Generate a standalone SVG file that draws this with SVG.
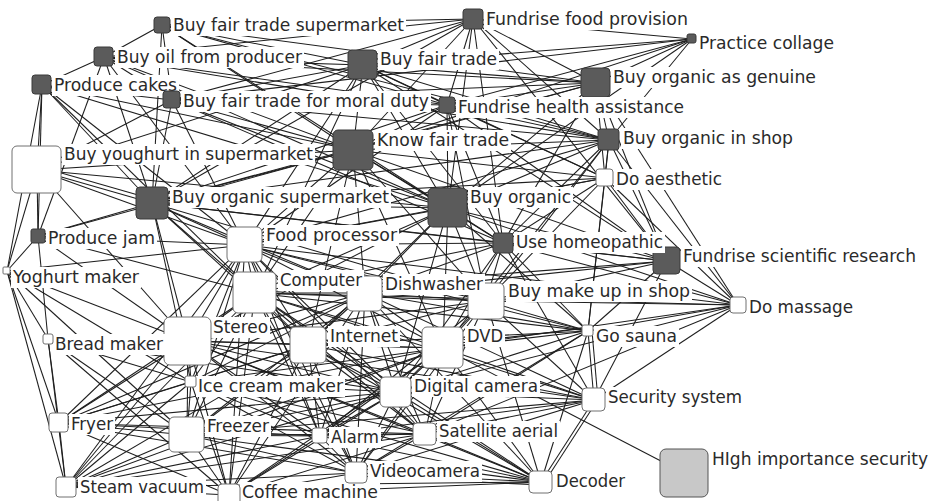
<svg xmlns="http://www.w3.org/2000/svg" width="938" height="501" viewBox="0 0 938 501">
<style>
  .edges line{stroke:#1e1e1e;stroke-width:1.05;fill:none}
  .dk{fill:#5b5b5b;stroke:#3a3a3a;stroke-width:1}
  .wt{fill:#fff;stroke:#707070;stroke-width:1}
  .gy{fill:#c8c8c8;stroke:#555;stroke-width:1}
  .bg{fill:#fff;stroke:none}
  text{font-family:"DejaVu Sans Condensed","DejaVu Sans","Liberation Sans",sans-serif;font-size:18px;fill:#2a2a2a}
</style>
<rect width="938" height="501" fill="#fff"/>
<g id="connectors" class="edges">
<line x1="162" y1="25" x2="104" y2="57"/><line x1="162" y1="25" x2="172" y2="100"/><line x1="162" y1="25" x2="473" y2="19"/><line x1="162" y1="25" x2="363" y2="65"/><line x1="162" y1="25" x2="353" y2="150"/><line x1="162" y1="25" x2="152" y2="203"/><line x1="162" y1="25" x2="448" y2="208"/><line x1="162" y1="25" x2="447" y2="105"/><line x1="162" y1="25" x2="596" y2="83"/><line x1="162" y1="25" x2="609" y2="140"/>
<line x1="104" y1="57" x2="42" y2="85"/><line x1="104" y1="57" x2="172" y2="100"/><line x1="104" y1="57" x2="363" y2="65"/><line x1="104" y1="57" x2="353" y2="150"/><line x1="104" y1="57" x2="152" y2="203"/><line x1="104" y1="57" x2="448" y2="208"/><line x1="104" y1="57" x2="447" y2="105"/><line x1="104" y1="57" x2="596" y2="83"/><line x1="104" y1="57" x2="609" y2="140"/><line x1="104" y1="57" x2="245" y2="245"/><line x1="104" y1="57" x2="38" y2="236"/><line x1="104" y1="57" x2="473" y2="19"/>
<line x1="42" y1="85" x2="37" y2="170"/><line x1="42" y1="85" x2="38" y2="236"/><line x1="42" y1="85" x2="7" y2="271"/><line x1="42" y1="85" x2="172" y2="100"/><line x1="42" y1="85" x2="353" y2="150"/><line x1="42" y1="85" x2="152" y2="203"/><line x1="42" y1="85" x2="448" y2="208"/><line x1="42" y1="85" x2="245" y2="245"/><line x1="42" y1="85" x2="255" y2="293"/>
<line x1="172" y1="100" x2="363" y2="65"/><line x1="172" y1="100" x2="353" y2="150"/><line x1="172" y1="100" x2="152" y2="203"/><line x1="172" y1="100" x2="448" y2="208"/><line x1="172" y1="100" x2="447" y2="105"/><line x1="172" y1="100" x2="596" y2="83"/><line x1="172" y1="100" x2="609" y2="140"/><line x1="172" y1="100" x2="503" y2="243"/><line x1="172" y1="100" x2="473" y2="19"/><line x1="172" y1="100" x2="245" y2="245"/><line x1="172" y1="100" x2="37" y2="170"/>
<line x1="37" y1="170" x2="152" y2="203"/><line x1="37" y1="166" x2="152" y2="199"/><line x1="37" y1="170" x2="38" y2="236"/><line x1="37" y1="170" x2="7" y2="271"/><line x1="37" y1="170" x2="188" y2="341"/><line x1="37" y1="170" x2="245" y2="245"/><line x1="37" y1="170" x2="353" y2="150"/><line x1="37" y1="170" x2="363" y2="65"/><line x1="37" y1="170" x2="448" y2="208"/>
<line x1="473" y1="19" x2="363" y2="65"/><line x1="473" y1="19" x2="353" y2="150"/><line x1="473" y1="19" x2="447" y2="105"/><line x1="473" y1="19" x2="448" y2="208"/><line x1="473" y1="19" x2="609" y2="140"/><line x1="473" y1="19" x2="596" y2="83"/><line x1="473" y1="19" x2="692" y2="39"/><line x1="473" y1="19" x2="152" y2="203"/><line x1="473" y1="19" x2="503" y2="243"/><line x1="473" y1="19" x2="667" y2="261"/>
<line x1="363" y1="65" x2="353" y2="150"/><line x1="363" y1="65" x2="447" y2="105"/><line x1="363" y1="65" x2="596" y2="83"/><line x1="363" y1="65" x2="609" y2="140"/><line x1="363" y1="65" x2="448" y2="208"/><line x1="363" y1="65" x2="152" y2="203"/><line x1="363" y1="65" x2="692" y2="39"/><line x1="363" y1="65" x2="503" y2="243"/><line x1="363" y1="65" x2="667" y2="261"/><line x1="363" y1="65" x2="605" y2="178"/><line x1="363" y1="65" x2="245" y2="245"/><line x1="363" y1="65" x2="255" y2="293"/>
<line x1="692" y1="39" x2="596" y2="83"/><line x1="692" y1="39" x2="447" y2="105"/><line x1="692" y1="39" x2="353" y2="150"/><line x1="692" y1="39" x2="609" y2="140"/><line x1="692" y1="39" x2="448" y2="208"/><line x1="692" y1="39" x2="172" y2="100"/>
<line x1="596" y1="83" x2="609" y2="140"/><line x1="596" y1="83" x2="448" y2="208"/><line x1="596" y1="83" x2="353" y2="150"/><line x1="596" y1="83" x2="447" y2="105"/><line x1="596" y1="83" x2="503" y2="243"/><line x1="596" y1="83" x2="667" y2="261"/><line x1="596" y1="83" x2="605" y2="178"/><line x1="596" y1="83" x2="152" y2="203"/><line x1="596" y1="83" x2="738" y2="305"/>
<line x1="447" y1="105" x2="353" y2="150"/><line x1="447" y1="105" x2="448" y2="208"/><line x1="447" y1="105" x2="609" y2="140"/><line x1="447" y1="105" x2="152" y2="203"/><line x1="447" y1="105" x2="503" y2="243"/><line x1="447" y1="105" x2="667" y2="261"/><line x1="447" y1="105" x2="605" y2="178"/><line x1="447" y1="105" x2="245" y2="245"/><line x1="447" y1="105" x2="486" y2="301"/>
<line x1="353" y1="150" x2="152" y2="203"/><line x1="353" y1="150" x2="448" y2="208"/><line x1="353" y1="150" x2="609" y2="140"/><line x1="353" y1="150" x2="503" y2="243"/><line x1="353" y1="150" x2="667" y2="261"/><line x1="353" y1="150" x2="245" y2="245"/><line x1="353" y1="150" x2="255" y2="293"/><line x1="353" y1="150" x2="365" y2="293"/><line x1="353" y1="150" x2="486" y2="301"/><line x1="353" y1="150" x2="605" y2="178"/><line x1="353" y1="150" x2="38" y2="236"/><line x1="353" y1="150" x2="308" y2="345"/><line x1="353" y1="150" x2="443" y2="348"/>
<line x1="609" y1="140" x2="448" y2="208"/><line x1="609" y1="140" x2="503" y2="243"/><line x1="609" y1="140" x2="667" y2="261"/><line x1="609" y1="140" x2="605" y2="178"/><line x1="609" y1="140" x2="738" y2="305"/><line x1="609" y1="140" x2="152" y2="203"/><line x1="609" y1="140" x2="486" y2="301"/><line x1="609" y1="140" x2="588" y2="331"/><line x1="609" y1="140" x2="245" y2="245"/><line x1="609" y1="140" x2="443" y2="348"/>
<line x1="605" y1="178" x2="448" y2="208"/><line x1="605" y1="178" x2="503" y2="243"/><line x1="605" y1="178" x2="667" y2="261"/><line x1="605" y1="178" x2="738" y2="305"/><line x1="605" y1="178" x2="486" y2="301"/><line x1="605" y1="178" x2="588" y2="331"/><line x1="605" y1="178" x2="152" y2="203"/><line x1="605" y1="178" x2="245" y2="245"/>
<line x1="152" y1="203" x2="448" y2="208"/><line x1="152" y1="203" x2="245" y2="245"/><line x1="152" y1="203" x2="503" y2="243"/><line x1="152" y1="203" x2="255" y2="293"/><line x1="152" y1="203" x2="188" y2="341"/><line x1="152" y1="203" x2="38" y2="236"/><line x1="152" y1="203" x2="365" y2="293"/><line x1="152" y1="203" x2="308" y2="345"/><line x1="152" y1="203" x2="191" y2="382"/><line x1="152" y1="203" x2="486" y2="301"/><line x1="152" y1="203" x2="667" y2="261"/>
<line x1="448" y1="208" x2="503" y2="243"/><line x1="448" y1="208" x2="667" y2="261"/><line x1="448" y1="208" x2="486" y2="301"/><line x1="448" y1="208" x2="738" y2="305"/><line x1="448" y1="208" x2="245" y2="245"/><line x1="448" y1="208" x2="255" y2="293"/><line x1="448" y1="208" x2="365" y2="293"/><line x1="448" y1="208" x2="308" y2="345"/><line x1="448" y1="208" x2="443" y2="348"/><line x1="448" y1="208" x2="588" y2="331"/><line x1="448" y1="208" x2="396" y2="392"/><line x1="448" y1="208" x2="188" y2="341"/>
<line x1="38" y1="236" x2="245" y2="245"/><line x1="38" y1="236" x2="7" y2="271"/><line x1="38" y1="236" x2="255" y2="293"/><line x1="38" y1="236" x2="188" y2="341"/><line x1="38" y1="236" x2="48" y2="339"/>
<line x1="245" y1="245" x2="255" y2="293"/><line x1="245" y1="245" x2="365" y2="293"/><line x1="245" y1="245" x2="486" y2="301"/><line x1="245" y1="245" x2="188" y2="341"/><line x1="245" y1="245" x2="308" y2="345"/><line x1="245" y1="245" x2="443" y2="348"/><line x1="245" y1="245" x2="191" y2="382"/><line x1="245" y1="245" x2="396" y2="392"/><line x1="245" y1="245" x2="187" y2="435"/><line x1="245" y1="245" x2="320" y2="436"/><line x1="245" y1="245" x2="425" y2="434"/><line x1="245" y1="245" x2="356" y2="473"/><line x1="245" y1="245" x2="7" y2="271"/><line x1="245" y1="245" x2="59" y2="423"/><line x1="245" y1="245" x2="66" y2="487"/><line x1="245" y1="245" x2="229" y2="495"/><line x1="245" y1="245" x2="503" y2="243"/><line x1="245" y1="245" x2="588" y2="331"/><line x1="245" y1="245" x2="738" y2="305"/>
<line x1="503" y1="243" x2="667" y2="261"/><line x1="503" y1="243" x2="486" y2="301"/><line x1="503" y1="243" x2="738" y2="305"/><line x1="503" y1="243" x2="588" y2="331"/><line x1="503" y1="243" x2="365" y2="293"/><line x1="503" y1="243" x2="255" y2="293"/><line x1="503" y1="243" x2="443" y2="348"/><line x1="503" y1="243" x2="594" y2="400"/><line x1="503" y1="243" x2="396" y2="392"/>
<line x1="667" y1="261" x2="738" y2="305"/><line x1="667" y1="261" x2="486" y2="301"/><line x1="667" y1="261" x2="588" y2="331"/><line x1="667" y1="261" x2="594" y2="400"/><line x1="667" y1="261" x2="255" y2="293"/><line x1="667" y1="261" x2="365" y2="293"/>
<line x1="7" y1="271" x2="48" y2="339"/><line x1="7" y1="271" x2="59" y2="423"/><line x1="7" y1="271" x2="66" y2="487"/><line x1="7" y1="271" x2="188" y2="341"/><line x1="7" y1="271" x2="187" y2="435"/><line x1="7" y1="271" x2="191" y2="382"/>
<line x1="255" y1="293" x2="365" y2="293"/><line x1="255" y1="293" x2="486" y2="301"/><line x1="255" y1="293" x2="188" y2="341"/><line x1="255" y1="293" x2="308" y2="345"/><line x1="255" y1="293" x2="443" y2="348"/><line x1="255" y1="293" x2="191" y2="382"/><line x1="255" y1="293" x2="396" y2="392"/><line x1="255" y1="293" x2="187" y2="435"/><line x1="255" y1="293" x2="320" y2="436"/><line x1="255" y1="293" x2="425" y2="434"/><line x1="255" y1="293" x2="356" y2="473"/><line x1="255" y1="293" x2="229" y2="495"/><line x1="255" y1="293" x2="59" y2="423"/><line x1="255" y1="293" x2="66" y2="487"/><line x1="255" y1="293" x2="588" y2="331"/><line x1="255" y1="293" x2="594" y2="400"/><line x1="255" y1="293" x2="541" y2="482"/><line x1="255" y1="293" x2="738" y2="305"/>
<line x1="365" y1="293" x2="486" y2="301"/><line x1="365" y1="293" x2="188" y2="341"/><line x1="365" y1="293" x2="308" y2="345"/><line x1="365" y1="293" x2="443" y2="348"/><line x1="365" y1="293" x2="191" y2="382"/><line x1="365" y1="293" x2="396" y2="392"/><line x1="365" y1="293" x2="187" y2="435"/><line x1="365" y1="293" x2="320" y2="436"/><line x1="365" y1="293" x2="425" y2="434"/><line x1="365" y1="293" x2="356" y2="473"/><line x1="365" y1="293" x2="229" y2="495"/><line x1="365" y1="293" x2="588" y2="331"/><line x1="365" y1="293" x2="594" y2="400"/><line x1="365" y1="293" x2="541" y2="482"/><line x1="365" y1="293" x2="59" y2="423"/>
<line x1="486" y1="301" x2="738" y2="305"/><line x1="486" y1="301" x2="588" y2="331"/><line x1="486" y1="301" x2="443" y2="348"/><line x1="486" y1="301" x2="308" y2="345"/><line x1="486" y1="301" x2="396" y2="392"/><line x1="486" y1="301" x2="425" y2="434"/><line x1="486" y1="301" x2="594" y2="400"/><line x1="486" y1="301" x2="541" y2="482"/><line x1="486" y1="301" x2="188" y2="341"/><line x1="486" y1="301" x2="320" y2="436"/><line x1="486" y1="301" x2="356" y2="473"/>
<line x1="738" y1="305" x2="588" y2="331"/><line x1="738" y1="305" x2="443" y2="348"/><line x1="738" y1="305" x2="396" y2="392"/><line x1="738" y1="305" x2="594" y2="400"/><line x1="738" y1="305" x2="425" y2="434"/>
<line x1="188" y1="341" x2="308" y2="345"/><line x1="188" y1="341" x2="443" y2="348"/><line x1="188" y1="341" x2="191" y2="382"/><line x1="188" y1="341" x2="396" y2="392"/><line x1="188" y1="341" x2="187" y2="435"/><line x1="188" y1="341" x2="320" y2="436"/><line x1="188" y1="341" x2="425" y2="434"/><line x1="188" y1="341" x2="356" y2="473"/><line x1="188" y1="341" x2="229" y2="495"/><line x1="188" y1="341" x2="59" y2="423"/><line x1="188" y1="341" x2="66" y2="487"/><line x1="188" y1="341" x2="48" y2="339"/><line x1="188" y1="341" x2="541" y2="482"/><line x1="188" y1="341" x2="594" y2="400"/>
<line x1="48" y1="339" x2="59" y2="423"/><line x1="48" y1="339" x2="66" y2="487"/><line x1="48" y1="339" x2="191" y2="382"/><line x1="48" y1="339" x2="187" y2="435"/><line x1="48" y1="339" x2="229" y2="495"/><line x1="48" y1="339" x2="396" y2="392"/>
<line x1="308" y1="345" x2="443" y2="348"/><line x1="308" y1="345" x2="191" y2="382"/><line x1="308" y1="345" x2="396" y2="392"/><line x1="308" y1="345" x2="187" y2="435"/><line x1="308" y1="345" x2="320" y2="436"/><line x1="308" y1="345" x2="425" y2="434"/><line x1="308" y1="345" x2="356" y2="473"/><line x1="308" y1="345" x2="229" y2="495"/><line x1="308" y1="345" x2="59" y2="423"/><line x1="308" y1="345" x2="66" y2="487"/><line x1="308" y1="345" x2="541" y2="482"/><line x1="308" y1="345" x2="594" y2="400"/><line x1="308" y1="345" x2="588" y2="331"/>
<line x1="443" y1="348" x2="191" y2="382"/><line x1="443" y1="348" x2="396" y2="392"/><line x1="443" y1="348" x2="187" y2="435"/><line x1="443" y1="348" x2="320" y2="436"/><line x1="443" y1="348" x2="425" y2="434"/><line x1="443" y1="348" x2="356" y2="473"/><line x1="443" y1="348" x2="229" y2="495"/><line x1="443" y1="348" x2="588" y2="331"/><line x1="443" y1="345" x2="588" y2="328"/><line x1="443" y1="348" x2="594" y2="400"/><line x1="443" y1="348" x2="541" y2="482"/><line x1="443" y1="348" x2="684" y2="473"/><line x1="443" y1="348" x2="59" y2="423"/><line x1="443" y1="348" x2="66" y2="487"/>
<line x1="588" y1="331" x2="594" y2="400"/><line x1="592" y1="331" x2="598" y2="400"/><line x1="588" y1="331" x2="396" y2="392"/><line x1="588" y1="331" x2="425" y2="434"/><line x1="588" y1="331" x2="541" y2="482"/><line x1="588" y1="331" x2="356" y2="473"/>
<line x1="191" y1="382" x2="396" y2="392"/><line x1="191" y1="382" x2="187" y2="435"/><line x1="191" y1="382" x2="320" y2="436"/><line x1="191" y1="382" x2="425" y2="434"/><line x1="191" y1="382" x2="356" y2="473"/><line x1="191" y1="382" x2="229" y2="495"/><line x1="191" y1="382" x2="59" y2="423"/><line x1="191" y1="382" x2="66" y2="487"/><line x1="191" y1="382" x2="541" y2="482"/>
<line x1="396" y1="392" x2="187" y2="435"/><line x1="396" y1="392" x2="320" y2="436"/><line x1="396" y1="392" x2="425" y2="434"/><line x1="396" y1="392" x2="356" y2="473"/><line x1="396" y1="392" x2="229" y2="495"/><line x1="396" y1="392" x2="594" y2="400"/><line x1="396" y1="392" x2="541" y2="482"/><line x1="396" y1="392" x2="59" y2="423"/><line x1="396" y1="392" x2="66" y2="487"/>
<line x1="594" y1="400" x2="425" y2="434"/><line x1="594" y1="400" x2="541" y2="482"/><line x1="597" y1="401" x2="544" y2="483"/><line x1="594" y1="400" x2="356" y2="473"/><line x1="594" y1="400" x2="320" y2="436"/><line x1="594" y1="400" x2="187" y2="435"/>
<line x1="59" y1="423" x2="66" y2="487"/><line x1="59" y1="423" x2="187" y2="435"/><line x1="59" y1="423" x2="320" y2="436"/><line x1="59" y1="423" x2="356" y2="473"/><line x1="59" y1="423" x2="425" y2="434"/><line x1="59" y1="423" x2="229" y2="495"/>
<line x1="187" y1="435" x2="320" y2="436"/><line x1="187" y1="435" x2="425" y2="434"/><line x1="187" y1="435" x2="356" y2="473"/><line x1="187" y1="435" x2="229" y2="495"/><line x1="187" y1="435" x2="66" y2="487"/><line x1="187" y1="435" x2="541" y2="482"/>
<line x1="320" y1="436" x2="425" y2="434"/><line x1="320" y1="436" x2="356" y2="473"/><line x1="320" y1="436" x2="229" y2="495"/><line x1="320" y1="436" x2="66" y2="487"/><line x1="320" y1="436" x2="541" y2="482"/>
<line x1="425" y1="434" x2="356" y2="473"/><line x1="425" y1="434" x2="541" y2="482"/><line x1="425" y1="434" x2="229" y2="495"/><line x1="425" y1="434" x2="66" y2="487"/>
<line x1="66" y1="487" x2="229" y2="495"/><line x1="66" y1="487" x2="356" y2="473"/><line x1="66" y1="487" x2="541" y2="482"/>
<line x1="229" y1="495" x2="356" y2="473"/><line x1="229" y1="495" x2="541" y2="482"/>
<line x1="356" y1="473" x2="541" y2="482"/><line x1="356" y1="476" x2="541" y2="485"/>
</g>
<g id="nodes">
<g id="n-buy-fair-trade-supermarket"><rect class="bg" x="171" y="15" width="235" height="21"/><text x="173" y="31" textLength="231" lengthAdjust="spacingAndGlyphs">Buy fair trade supermarket</text><rect class="dk" x="154" y="17" width="16" height="16" rx="3"/></g>
<g id="n-buy-oil-from-producer"><rect class="bg" x="115" y="47" width="189" height="21"/><text x="117" y="63" textLength="185" lengthAdjust="spacingAndGlyphs">Buy oil from producer</text><rect class="dk" x="94" y="47" width="19" height="19" rx="3"/></g>
<g id="n-produce-cakes"><rect class="bg" x="52" y="75" width="127" height="21"/><text x="54" y="91" textLength="123" lengthAdjust="spacingAndGlyphs">Produce cakes</text><rect class="dk" x="32" y="75" width="19" height="19" rx="3"/></g>
<g id="n-buy-fair-trade-moral-duty"><rect class="bg" x="181" y="91" width="250" height="21"/><text x="183" y="107" textLength="246" lengthAdjust="spacingAndGlyphs">Buy fair trade for moral duty</text><rect class="dk" x="163" y="91" width="17" height="17" rx="3"/></g>
<g id="n-buy-youghurt-supermarket"><rect class="bg" x="62" y="144" width="253" height="21"/><text x="64" y="160" textLength="249" lengthAdjust="spacingAndGlyphs">Buy youghurt in supermarket</text><rect class="wt" x="12" y="146" width="49" height="47" rx="5"/></g>
<g id="n-fundrise-food-provision"><rect class="bg" x="484" y="9" width="206" height="21"/><text x="486" y="25" textLength="202" lengthAdjust="spacingAndGlyphs">Fundrise food provision</text><rect class="dk" x="463" y="9" width="20" height="20" rx="3"/></g>
<g id="n-buy-fair-trade"><rect class="bg" x="378" y="49" width="121" height="21"/><text x="380" y="65" textLength="117" lengthAdjust="spacingAndGlyphs">Buy fair trade</text><rect class="dk" x="348" y="50" width="29" height="29" rx="4"/></g>
<g id="n-practice-collage"><rect class="bg" x="697" y="33" width="139" height="21"/><text x="699" y="49" textLength="135" lengthAdjust="spacingAndGlyphs">Practice collage</text><rect class="dk" x="687" y="34" width="9" height="9" rx="2"/></g>
<g id="n-buy-organic-genuine"><rect class="bg" x="611" y="67" width="207" height="21"/><text x="613" y="83" textLength="203" lengthAdjust="spacingAndGlyphs">Buy organic as genuine</text><rect class="dk" x="581" y="68" width="29" height="29" rx="4"/></g>
<g id="n-fundrise-health-assistance"><rect class="bg" x="456" y="97" width="230" height="21"/><text x="458" y="113" textLength="226" lengthAdjust="spacingAndGlyphs">Fundrise health assistance</text><rect class="dk" x="439" y="97" width="16" height="16" rx="3"/></g>
<g id="n-know-fair-trade"><rect class="bg" x="375" y="130" width="136" height="21"/><text x="377" y="146" textLength="132" lengthAdjust="spacingAndGlyphs">Know fair trade</text><rect class="dk" x="333" y="130" width="40" height="40" rx="5"/></g>
<g id="n-buy-organic-shop"><rect class="bg" x="621" y="128" width="174" height="21"/><text x="623" y="144" textLength="170" lengthAdjust="spacingAndGlyphs">Buy organic in shop</text><rect class="dk" x="598" y="129" width="21" height="21" rx="3"/></g>
<g id="n-do-aesthetic"><rect class="bg" x="614" y="169" width="110" height="21"/><text x="616" y="185" textLength="106" lengthAdjust="spacingAndGlyphs">Do aesthetic</text><rect class="wt" x="596" y="169" width="17" height="17" rx="3"/></g>
<g id="n-buy-organic-supermarket"><rect class="bg" x="170" y="187" width="221" height="21"/><text x="172" y="203" textLength="217" lengthAdjust="spacingAndGlyphs">Buy organic supermarket</text><rect class="dk" x="136" y="187" width="32" height="32" rx="4"/></g>
<g id="n-buy-organic"><rect class="bg" x="468" y="187" width="105" height="21"/><text x="470" y="203" textLength="101" lengthAdjust="spacingAndGlyphs">Buy organic</text><rect class="dk" x="428" y="188" width="39" height="39" rx="5"/></g>
<g id="n-produce-jam"><rect class="bg" x="46" y="228" width="111" height="21"/><text x="48" y="244" textLength="107" lengthAdjust="spacingAndGlyphs">Produce jam</text><rect class="dk" x="31" y="229" width="14" height="14" rx="2"/></g>
<g id="n-food-processor"><rect class="bg" x="264" y="225" width="135" height="21"/><text x="266" y="241" textLength="131" lengthAdjust="spacingAndGlyphs">Food processor</text><rect class="wt" x="227" y="227" width="35" height="35" rx="5"/></g>
<g id="n-fundrise-scientific-research"><rect class="bg" x="681" y="246" width="237" height="21"/><text x="683" y="262" textLength="233" lengthAdjust="spacingAndGlyphs">Fundrise scientific research</text><rect class="dk" x="653" y="247" width="27" height="27" rx="4"/></g>
<g id="n-use-homeopathic"><rect class="bg" x="514" y="232" width="151" height="21"/><text x="516" y="248" textLength="147" lengthAdjust="spacingAndGlyphs">Use homeopathic</text><rect class="dk" x="493" y="233" width="20" height="20" rx="3"/></g>
<g id="n-yoghurt-maker"><rect class="bg" x="11" y="267" width="130" height="21"/><text x="13" y="283" textLength="126" lengthAdjust="spacingAndGlyphs">Yoghurt maker</text><rect class="wt" x="3" y="267" width="7" height="7" rx="1"/></g>
<g id="n-buy-make-up-shop"><rect class="bg" x="506" y="281" width="186" height="21"/><text x="508" y="297" textLength="182" lengthAdjust="spacingAndGlyphs">Buy make up in shop</text><rect class="wt" x="468" y="283" width="36" height="36" rx="5"/></g>
<g id="n-dishwasher"><rect class="bg" x="383" y="274" width="102" height="21"/><text x="385" y="290" textLength="98" lengthAdjust="spacingAndGlyphs">Dishwasher</text><rect class="wt" x="347" y="276" width="35" height="35" rx="5"/></g>
<g id="n-computer"><rect class="bg" x="278" y="270" width="86" height="21"/><text x="280" y="286" textLength="82" lengthAdjust="spacingAndGlyphs">Computer</text><rect class="wt" x="233" y="272" width="43" height="41" rx="5"/></g>
<g id="n-do-massage"><rect class="bg" x="747" y="297" width="108" height="21"/><text x="749" y="313" textLength="104" lengthAdjust="spacingAndGlyphs">Do massage</text><rect class="wt" x="730" y="297" width="16" height="16" rx="3"/></g>
<g id="n-stereo"><rect class="bg" x="211" y="317" width="59" height="21"/><text x="213" y="333" textLength="55" lengthAdjust="spacingAndGlyphs">Stereo</text><rect class="wt" x="164" y="317" width="47" height="48" rx="6"/></g>
<g id="n-bread-maker"><rect class="bg" x="53" y="334" width="112" height="21"/><text x="55" y="350" textLength="108" lengthAdjust="spacingAndGlyphs">Bread maker</text><rect class="wt" x="43" y="334" width="10" height="10" rx="2"/></g>
<g id="n-internet"><rect class="bg" x="328" y="326" width="72" height="21"/><text x="330" y="342" textLength="68" lengthAdjust="spacingAndGlyphs">Internet</text><rect class="wt" x="290" y="327" width="36" height="36" rx="5"/></g>
<g id="n-dvd"><rect class="bg" x="465" y="326" width="40" height="21"/><text x="467" y="342" textLength="36" lengthAdjust="spacingAndGlyphs">DVD</text><rect class="wt" x="422" y="327" width="41" height="41" rx="5"/></g>
<g id="n-go-sauna"><rect class="bg" x="594" y="326" width="85" height="21"/><text x="596" y="342" textLength="81" lengthAdjust="spacingAndGlyphs">Go sauna</text><rect class="wt" x="582" y="325" width="11" height="11" rx="2"/></g>
<g id="n-ice-cream-maker"><rect class="bg" x="196" y="376" width="149" height="21"/><text x="198" y="392" textLength="145" lengthAdjust="spacingAndGlyphs">Ice cream maker</text><rect class="wt" x="185" y="376" width="11" height="11" rx="2"/></g>
<g id="n-digital-camera"><rect class="bg" x="412" y="376" width="128" height="21"/><text x="414" y="392" textLength="124" lengthAdjust="spacingAndGlyphs">Digital camera</text><rect class="wt" x="380" y="377" width="31" height="30" rx="5"/></g>
<g id="n-security-system"><rect class="bg" x="606" y="387" width="138" height="21"/><text x="608" y="403" textLength="134" lengthAdjust="spacingAndGlyphs">Security system</text><rect class="wt" x="582" y="388" width="23" height="23" rx="4"/></g>
<g id="n-fryer"><rect class="bg" x="69" y="414" width="46" height="21"/><text x="71" y="430" textLength="42" lengthAdjust="spacingAndGlyphs">Fryer</text><rect class="wt" x="49" y="413" width="19" height="19" rx="3"/></g>
<g id="n-freezer"><rect class="bg" x="205" y="416" width="66" height="21"/><text x="207" y="432" textLength="62" lengthAdjust="spacingAndGlyphs">Freezer</text><rect class="wt" x="169" y="417" width="35" height="35" rx="5"/></g>
<g id="n-alarm"><rect class="bg" x="329" y="427" width="52" height="21"/><text x="331" y="443" textLength="48" lengthAdjust="spacingAndGlyphs">Alarm</text><rect class="wt" x="312" y="428" width="15" height="15" rx="3"/></g>
<g id="n-satellite-aerial"><rect class="bg" x="437" y="421" width="123" height="21"/><text x="439" y="437" textLength="119" lengthAdjust="spacingAndGlyphs">Satellite aerial</text><rect class="wt" x="413" y="423" width="23" height="22" rx="4"/></g>
<g id="n-high-importance-security"><rect class="bg" x="710" y="449" width="220" height="21"/><text x="712" y="465" textLength="216" lengthAdjust="spacingAndGlyphs">HIgh importance security</text><rect class="gy" x="660" y="449" width="48" height="48" rx="6"/></g>
<g id="n-steam-vacuum"><rect class="bg" x="78" y="477" width="128" height="21"/><text x="80" y="493" textLength="124" lengthAdjust="spacingAndGlyphs">Steam vacuum</text><rect class="wt" x="56" y="477" width="20" height="20" rx="3"/></g>
<g id="n-coffee-machine"><rect class="bg" x="240" y="482" width="140" height="21"/><text x="242" y="498" textLength="136" lengthAdjust="spacingAndGlyphs">Coffee machine</text><rect class="wt" x="218" y="484" width="22" height="22" rx="4"/></g>
<g id="n-videocamera"><rect class="bg" x="368" y="461" width="114" height="21"/><text x="370" y="477" textLength="110" lengthAdjust="spacingAndGlyphs">Videocamera</text><rect class="wt" x="345" y="462" width="22" height="21" rx="4"/></g>
<g id="n-decoder"><rect class="bg" x="554" y="471" width="73" height="21"/><text x="556" y="487" textLength="69" lengthAdjust="spacingAndGlyphs">Decoder</text><rect class="wt" x="529" y="471" width="23" height="22" rx="4"/></g>
</g>
</svg>
